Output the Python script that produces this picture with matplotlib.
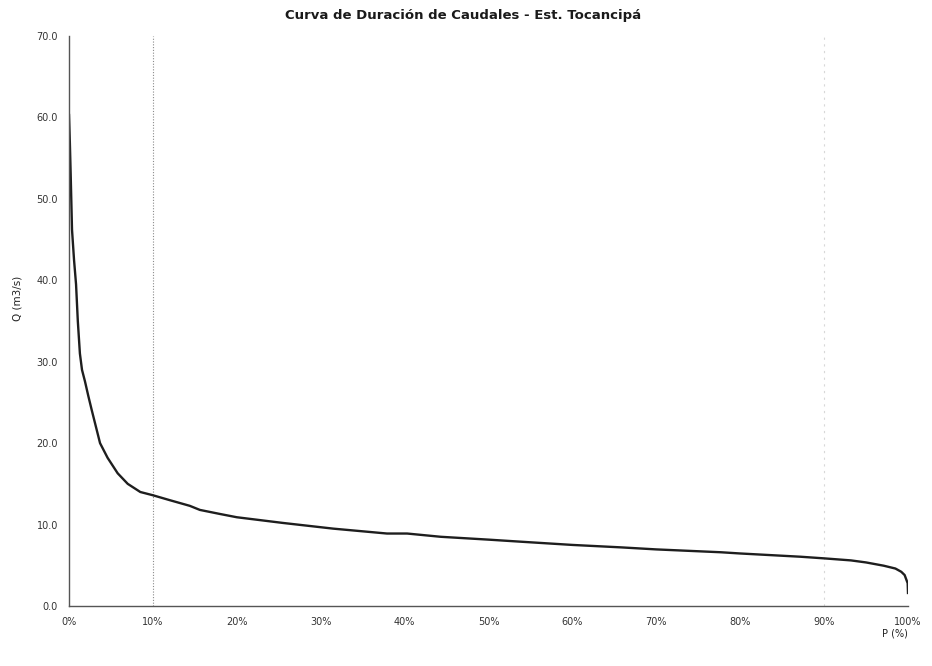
import matplotlib
matplotlib.use("Agg")
import matplotlib.pyplot as plt
from matplotlib.ticker import FuncFormatter, MultipleLocator

# Flow duration curve: exceedance probability (%) vs discharge (m3/s)
prob_pct = [0, 0.1, 0.2, 0.36, 0.6, 0.84, 1.05, 1.3, 1.55, 1.9, 2.3, 2.7, 3.7,
            4.6, 5.8, 7.0, 8.5, 10, 12, 14.4, 15.6, 18, 20, 25.5, 31.5, 37.9,
            40.3, 44.3, 50, 53.8, 60, 65.8, 70, 77.7, 80, 87.2, 90, 93.2, 95,
            97.1, 98.5, 99.2, 99.6, 99.96, 100]
flow_m3s = [60.3, 57.0, 53.0, 46.2, 42.5, 39.5, 35.0, 31.0, 29.0, 27.6, 25.8, 24.1,
            20.0, 18.2, 16.3, 15.0, 14.0, 13.6, 13.0, 12.3, 11.8, 11.3, 10.9,
            10.2, 9.5, 8.9, 8.9, 8.5, 8.15, 7.9, 7.5, 7.2, 6.95, 6.6, 6.45, 6.05,
            5.85, 5.6, 5.35, 4.95, 4.6, 4.2, 3.8, 2.8, 1.6]

title = "Curva de Duración de Caudales - Est. Tocancipá"
y_label = "Q (m3/s)"
x_label = "P (%)"
grid_x_pct = [10, 90]

fig = plt.figure(figsize=(9.32, 6.66), dpi=100)
ax = fig.add_axes([69 / 932, 1 - 606 / 666, (908 - 69) / 932, (606 - 36) / 666])

ax.plot(prob_pct, flow_m3s, color="#1e1e1e", lw=1.7, solid_joinstyle="round")

ax.set_xlim(0, 100)
ax.set_ylim(0, 70)
ax.xaxis.set_major_locator(MultipleLocator(10))
ax.yaxis.set_major_locator(MultipleLocator(10))
ax.xaxis.set_major_formatter(FuncFormatter(lambda v, _: f"{v:.0f}%"))
ax.yaxis.set_major_formatter(FuncFormatter(lambda v, _: f"{v:.1f}"))
ax.tick_params(length=0, labelsize=7, colors="#333333", pad=8)

# dotted reference lines
ax.axvline(grid_x_pct[0], color="#8a8a8a", lw=0.8, ls=(0, (1, 1.5)), zorder=0)
ax.axvline(grid_x_pct[1], color="#d8d8d8", lw=0.8, ls=(0, (2, 4)), zorder=0)

for side in ("top", "right"):
    ax.spines[side].set_visible(False)
for side in ("left", "bottom"):
    ax.spines[side].set_color("#555555")
    ax.spines[side].set_linewidth(1.0)
    ax.spines[side].set_linestyle((0, (1, 1)))

fig.text(463 / 932, 1 - 15 / 666, title, ha="center", va="center",
         fontsize=9.5, fontweight="bold", color="#1a1a1a")
fig.text(18 / 932, 1 - 298 / 666, y_label, ha="center", va="center",
         rotation=90, fontsize=7.5, color="#222222")
fig.text(895 / 932, 1 - 633 / 666, x_label, ha="center", va="center",
         fontsize=7, color="#222222")

fig.savefig("out.png", dpi=100, facecolor="white")
